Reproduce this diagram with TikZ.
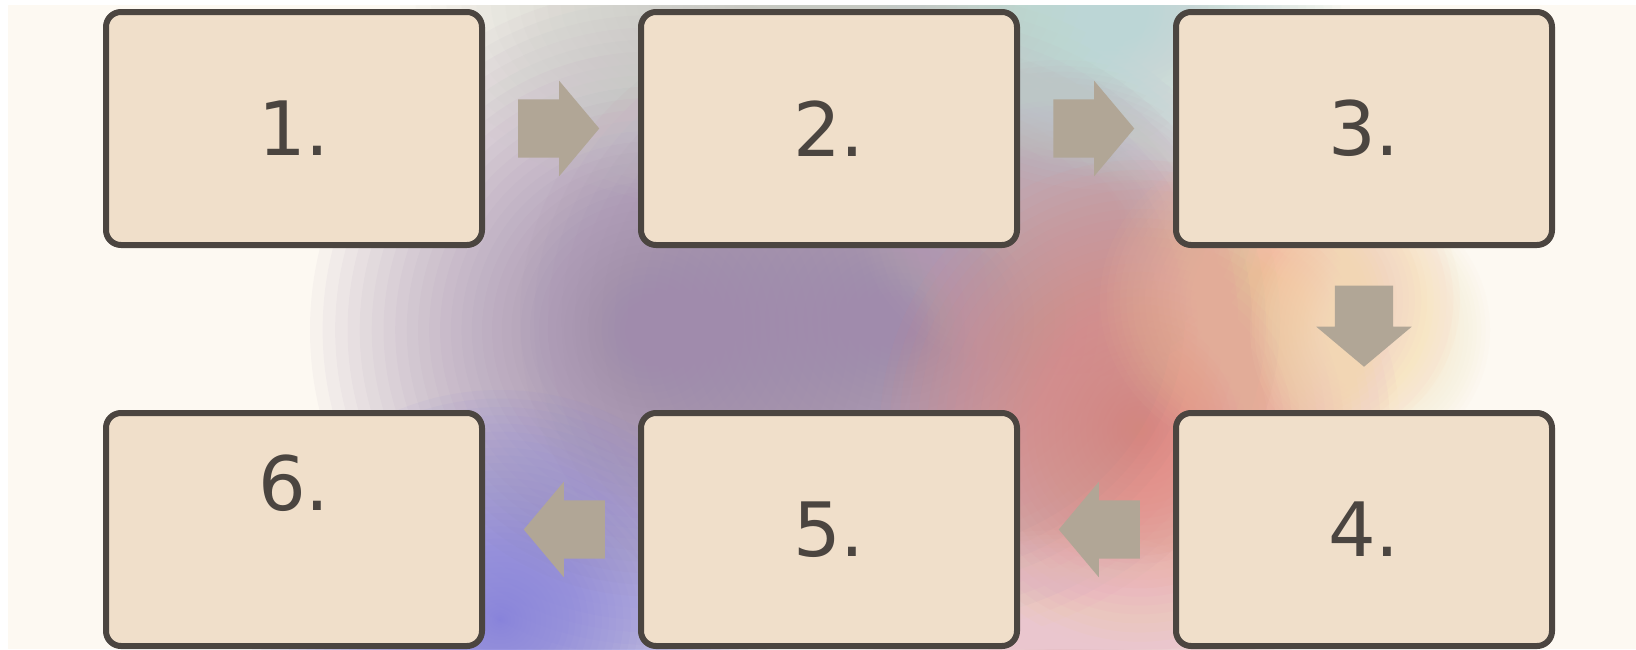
\documentclass[tikz,border=0pt]{standalone}
\usepackage{fontspec}
\setmainfont{DejaVu Sans}
\usetikzlibrary{positioning,calc,shapes.arrows}
\definecolor{paper}{HTML}{FDF9F2}
\definecolor{sand}{HTML}{F0DFCA}
\definecolor{slate}{HTML}{4B4540}
\definecolor{taupe}{HTML}{B1A696}
\definecolor{mauve}{HTML}{A08BAC}
\definecolor{dusk}{HTML}{BFA6B0}
\definecolor{sage}{HTML}{C6C9C2}
\definecolor{mist}{HTML}{BCD6D6}
\definecolor{iris}{HTML}{8580DA}
\definecolor{coral}{HTML}{E2877F}
\definecolor{peach}{HTML}{F2BC98}
\definecolor{butter}{HTML}{F7E6C4}
\definecolor{blush}{HTML}{EAC6CE}
% soft spot: colour, centre, x radius, y radius
\newcommand\haze[4]{%
  \foreach \k in {1,...,40}
    \fill[#1,opacity=0.06] #2 ellipse ({#3*(\k/40)^1.5} and {#4*(\k/40)^1.5});
}
\tikzset{
  stepbox/.style={draw=slate,fill=sand,line width=6pt,rounded corners=15pt,
    minimum width=376pt,minimum height=233pt,inner sep=0pt,text=slate,
    font=\fontsize{75}{80}\selectfont},
  flowarrow/.style={single arrow,fill=taupe,draw=none,inner xsep=0pt,inner ysep=29pt,
    minimum height=81pt,single arrow head extend=18.5pt,
    single arrow tip angle=100,anchor=tip},
}
\begin{document}
\begin{tikzpicture}[x=1pt,y=-1pt]
  \useasboundingbox (0,0) rectangle (1636,649);
  \fill[white] (0,0) rectangle (1636,649);
  \fill[paper] (8,5) rectangle (1636,649);
  \begin{scope}
    \clip (8,5) rectangle (1636,649);
    \haze{mauve}{(650,330)}{340}{340}
    \haze{mauve}{(900,320)}{380}{330}
    \haze{sage}{(820,0)}{420}{220}
    \haze{dusk}{(1060,220)}{200}{160}
    \haze{mist}{(1110,10)}{240}{180}
    \haze{iris}{(500,620)}{250}{230}
    \haze{coral}{(1140,430)}{260}{270}
    \haze{peach}{(1280,300)}{180}{160}
    \haze{butter}{(1370,330)}{120}{130}
    \haze{blush}{(1060,650)}{210}{120}
  \end{scope}

  \node[stepbox] (b1) at (294,128.5) {1.};
  \node[stepbox,right=153pt of b1] (b2) {2.};
  \node[stepbox,right=153pt of b2] (b3) {3.};
  \node[stepbox,below=162pt of b3] (b4) {4.};
  \node[stepbox,left=153pt of b4] (b5) {5.};
  \node[stepbox,left=153pt of b5,text depth=93pt] (b6) {6.};

  \node[flowarrow] (a12) at ($(b1.east)!0.5!(b2.west)+(38,0)$) {};
  \node[flowarrow] (a23) at ($(b2.east)!0.5!(b3.west)+(38,0)$) {};
  \node[flowarrow,rotate=-90] (a34) at ($(b3.south)!0.5!(b4.north)+(0,38)$) {};
  \node[flowarrow,rotate=180] (a45) at ($(b4.west)!0.5!(b5.east)+(-38,0)$) {};
  \node[flowarrow,rotate=180] (a56) at ($(b5.west)!0.5!(b6.east)+(-38,0)$) {};
\end{tikzpicture}
\end{document}
